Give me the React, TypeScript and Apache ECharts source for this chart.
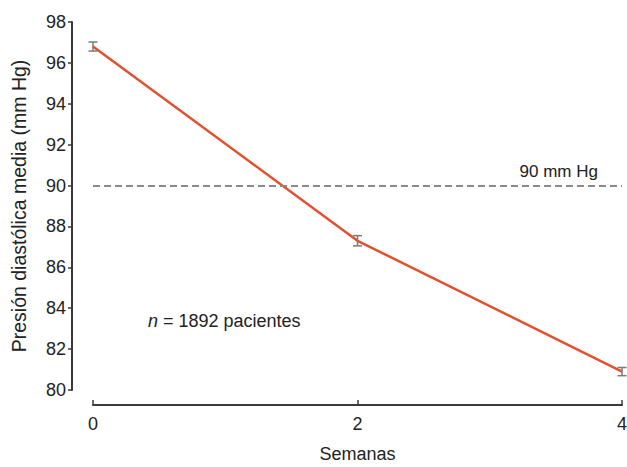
import React, { useEffect, useRef } from "react";
import * as echarts from "echarts";

const weeks = [0, 2, 4];
const meanPressure = [96.8, 87.3, 80.9];
const errorHalf = [0.22, 0.25, 0.2];
const yTicks = [80, 82, 84, 86, 88, 90, 92, 94, 96, 98];
const thresholdValue = 90;
const thresholdLabel = "90 mm Hg";
const annotationN = "1892 pacientes";

export default function App() {
  const ref = useRef<HTMLDivElement>(null);
  useEffect(() => {
    if (!ref.current) return;
    const chart = echarts.init(ref.current, null, { renderer: "svg" });
    const font = "Liberation Sans, Arial, sans-serif";
    const textColor = "#222222";
    chart.setOption({
      animation: false,
      backgroundColor: "#ffffff",
      grid: { left: 93, right: 5, top: 22, bottom: 77, containLabel: false, outerBoundsMode: "none" },
      xAxis: {
        type: "value",
        min: 0,
        max: 4,
        interval: 2,
        offset: 15,
        name: "Semanas",
        nameLocation: "middle",
        nameGap: 40,
        nameTextStyle: { fontFamily: font, fontSize: 18, color: textColor },
        axisLine: { show: true, onZero: false, lineStyle: { color: "#3a3a3a", width: 2 } },
        axisTick: { show: true, inside: true, length: 5, lineStyle: { color: "#3a3a3a", width: 1.5 } },
        axisLabel: { fontFamily: font, fontSize: 18, color: textColor, margin: 10 },
        splitLine: { show: false },
      },
      yAxis: {
        type: "value",
        min: yTicks[0],
        max: yTicks[yTicks.length - 1],
        interval: 2,
        offset: 21,
        name: "Presión diastólica media (mm Hg)",
        nameLocation: "middle",
        nameGap: 43,
        nameTextStyle: { fontFamily: font, fontSize: 19.5, color: textColor },
        axisLine: { show: true, onZero: false, lineStyle: { color: "#3a3a3a", width: 2 } },
        axisTick: { show: true, length: 4, lineStyle: { color: "#3a3a3a", width: 1.5 } },
        axisLabel: { fontFamily: font, fontSize: 18, color: textColor, margin: 6 },
        splitLine: { show: false },
      },
      series: [
        {
          type: "line",
          data: weeks.map((w, i) => [w, meanPressure[i]]),
          symbol: "none",
          lineStyle: { color: "#e4502f", width: 2.5 },
          z: 2,
          markLine: {
            silent: true,
            symbol: "none",
            lineStyle: { color: "#8a8a8a", type: [7, 4], width: 2 },
            label: {
              position: "insideEndTop",
              formatter: thresholdLabel,
              fontFamily: font,
              fontSize: 17,
              color: textColor,
              distance: [24, 6],
            },
            data: [{ yAxis: thresholdValue }],
          },
        },
        {
          type: "custom",
          z: 3,
          data: weeks.map((w, i) => [w, meanPressure[i] - errorHalf[i], meanPressure[i] + errorHalf[i]]),
          renderItem: (params: any, api: any) => {
            const x = api.value(0);
            const lo = api.coord([x, api.value(1)]);
            const hi = api.coord([x, api.value(2)]);
            const hw = 4.5;
            const style = { stroke: "#7a7a7a", lineWidth: 1.5, fill: "none" };
            return {
              type: "group",
              children: [
                { type: "line", shape: { x1: lo[0], y1: lo[1], x2: hi[0], y2: hi[1] }, style },
                { type: "line", shape: { x1: lo[0] - hw, y1: lo[1], x2: lo[0] + hw, y2: lo[1] }, style },
                { type: "line", shape: { x1: hi[0] - hw, y1: hi[1], x2: hi[0] + hw, y2: hi[1] }, style },
              ],
            };
          },
        },
      ],
      graphic: [
        {
          type: "text",
          left: 148,
          top: 312,
          style: {
            rich: {
              i: { fontFamily: font, fontSize: 18, fontStyle: "italic", fill: textColor },
              r: { fontFamily: font, fontSize: 18, fill: textColor },
            },
            text: "{i|n}{r| = " + annotationN + "}",
          },
        },
      ],
    });
    return () => chart.dispose();
  }, []);
  return <div ref={ref} style={{ width: 627, height: 467, position: "absolute", left: 0, top: 0 }} />;
}
